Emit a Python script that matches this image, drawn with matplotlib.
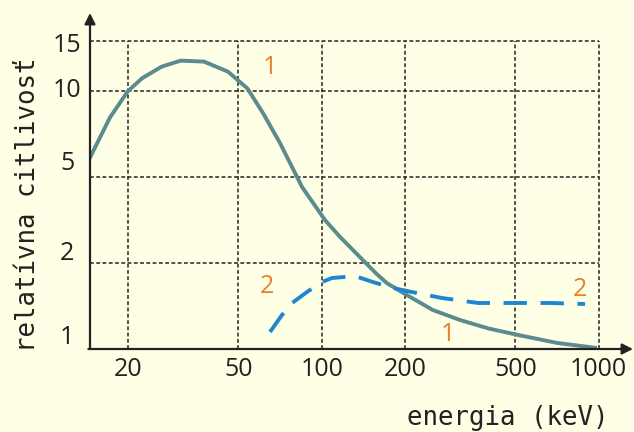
import matplotlib
matplotlib.use("Agg")
import matplotlib.pyplot as plt
import numpy as np

# data
energy_1 = [14.6, 17.2, 20, 22.5, 26.5, 31, 37.6, 45.9, 54, 61.4, 70.7, 81.5, 84.9, 102.8, 116.5,
            141, 158, 172, 203, 252, 316, 400, 511, 708, 970]
sens_1 = [5.86, 8.07, 10, 11.1, 12.2, 12.8, 12.7, 11.7, 10.2, 8.37, 6.58, 5.0, 4.5, 3.16, 2.64,
          2.06, 1.83, 1.70, 1.545, 1.369, 1.263, 1.18, 1.12, 1.05, 1.01]

energy_2 = [65.1, 71.9, 78.2, 88.5, 100.3, 109, 132, 153, 181, 203, 240, 272, 367, 667, 893]
sens_2 = [1.147, 1.315, 1.449, 1.583, 1.716, 1.772, 1.80, 1.716, 1.635, 1.596, 1.545, 1.508,
          1.449, 1.449, 1.437]

x_ticks = [20, 50, 100, 200, 500, 1000]
x_tick_labels = ["20", "50", "100", "200", "500", "1000"]
y_ticks = [1, 2, 5, 10, 15]
y_tick_labels = ["1", "2", "5", "10", "15"]

BG = "#FFFFE6"
INK = "#222222"
C1 = "#5B8A8F"
C2 = "#1E86CE"
ORANGE = "#E8802A"

# y axis: 1-2-5-10 equally spaced, 15 a bit above 10
_log_pts = np.log10([1, 2, 5, 10, 15, 100])
_idx_pts = np.array([0, 1, 2, 3, 3.58, 3.58 + (2 - np.log10(15)) * 0.58 / np.log10(1.5)])


def fwd(y):
    return np.interp(np.log10(np.clip(y, 1e-3, None)), _log_pts, _idx_pts)


def inv(i):
    return 10 ** np.interp(i, _idx_pts, _log_pts)


W, H = 634, 432
fig = plt.figure(figsize=(W / 100, H / 100), dpi=100, facecolor=BG)
ax = fig.add_axes([90 / W, 83 / H, 543 / W, 336 / H], facecolor=BG)
ax.set_xscale("log")
ax.set_yscale("function", functions=(fwd, inv))
ax.set_xlim(14.58, 1330)
ax.set_ylim(1, float(inv(336 / 86)))

# grid
grid_style = dict(color=INK, lw=1.1, linestyle=(0, (2.5, 1.6)), zorder=1)
ax.hlines(y_ticks[1:], 14.58, 1000, **grid_style)
ax.vlines(x_ticks, 1, 15, **grid_style)

# curves
ax.plot(energy_1, sens_1, color=C1, lw=2.8, solid_joinstyle="round", zorder=3)
ax.plot(energy_2, sens_2, color=C2, lw=2.8, linestyle=(0, (6, 3.5)), zorder=3)

# curve labels
lab = dict(color=ORANGE, fontsize=18, family="Open Sans", ha="center", va="center")
ax.text(65.1, 12.1, "1", **lab)
ax.text(63.5, 1.66, "2", **lab)
ax.text(857, 1.61, "2", **lab)
ax.text(286, 1.12, "1", **lab)

# axes with arrows
for s in ax.spines.values():
    s.set_visible(False)
arr = dict(arrowstyle="-|>", lw=1.6, color=INK, mutation_scale=16, shrinkA=0, shrinkB=0)
ax.annotate("", xy=(0, 1), xytext=(0, 0), xycoords="axes fraction", arrowprops=arr)
ax.annotate("", xy=(1, 0), xytext=(-0.003, 0), xycoords="axes fraction", arrowprops=arr)

# ticks
ax.set_xticks(x_ticks)
ax.set_xticklabels(x_tick_labels, fontsize=18, family="Open Sans", color=INK)
ax.xaxis.set_minor_locator(matplotlib.ticker.NullLocator())
ax.tick_params(axis="x", length=0, pad=6)
ax.set_yticks([])
ax.yaxis.set_minor_locator(matplotlib.ticker.NullLocator())

trans = matplotlib.transforms.blended_transform_factory(ax.transAxes, ax.transData)
y_off = [-12, -10, -13, 0, 4]  # label shift in px (negative = up)
for val, txt, off in zip(y_ticks, y_tick_labels, y_off):
    ax.text(-23 / 543, val, txt, transform=trans + matplotlib.transforms.Affine2D().translate(0, -off),
            ha="center", va="center", fontsize=18, family="Open Sans", color=INK)

fig.text(508 / W, 1 - 418 / H, "energia (keV)", fontsize=18.5, family="DejaVu Sans Mono",
         color=INK, ha="center", va="center")
fig.text(28 / W, 1 - 205 / H, "relatívna citlivosť", fontsize=18.5, family="DejaVu Sans Mono",
         color=INK, ha="center", va="center", rotation=90)

fig.savefig("out.png", dpi=100, facecolor=BG)
